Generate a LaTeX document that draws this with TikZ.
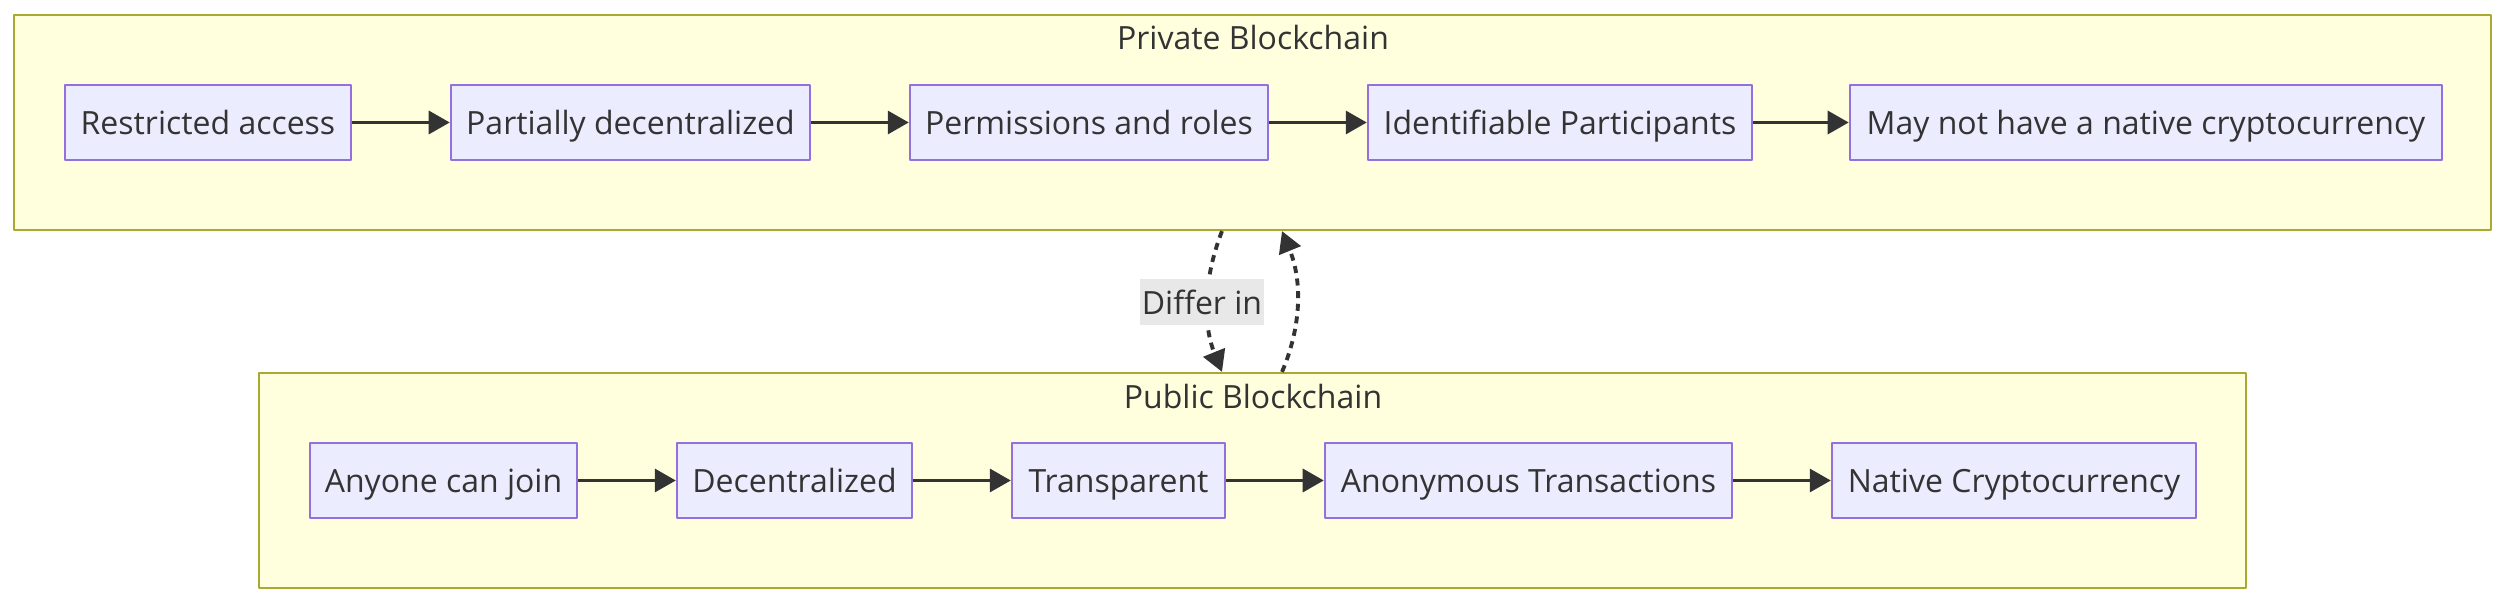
\documentclass[tikz,border=0pt]{standalone}
\usepackage{fontspec}
\setmainfont{Open Sans}
\usetikzlibrary{arrows.meta}
\definecolor{ink}{HTML}{333333}
\definecolor{clfill}{HTML}{FFFFDE}
\definecolor{clline}{HTML}{AAAA33}
\definecolor{boxfill}{HTML}{ECECFF}
\definecolor{boxline}{HTML}{9370DB}
\definecolor{lblfill}{HTML}{E8E8E8}
\tikzset{
  cluster/.style={draw=clline, fill=clfill, line width=0.6pt, minimum height=2.15cm},
  item/.style={draw=boxline, fill=boxfill, line width=0.6pt, text=ink, minimum height=0.75cm, inner sep=0pt, text height=0.84em, text depth=0.16em},
  flow/.style={draw=ink, line width=1.1pt, ->},
  link/.style={draw=ink, line width=1.1pt, dash pattern=on 2pt off 1.6pt, ->},
}
\begin{document}
\begin{tikzpicture}[x=0.01cm, y=-0.01cm, font=\fontsize{9.1}{11}\selectfont, line join=round, >={Triangle[length=6pt,width=6.5pt]}]
		\useasboundingbox (0,0) rectangle (2506,604);
		\node[cluster, minimum width=24.75cm] (priv) at (1252.5,122.5) {};
		\node[cluster, minimum width=19.85cm] (pub) at (1252.5,480.5) {};
		\node[text=ink] (privtitle) at (1253,38) {Private Blockchain};
		\node[text=ink] (pubtitle) at (1253,397) {Public Blockchain};
		\foreach \n/\x/\w/\t in {pa1/208/2.86/Restricted access, pa2/630.5/3.59/Partially decentralized, pa3/1089/3.58/Permissions and roles, pa4/1560/3.84/Identifiable Participants, pa5/2146/5.92/May not have a native cryptocurrency}
			\node[item, minimum width=\w cm] (\n) at (\x,122.5) {\t};
		\foreach \n/\x/\w/\t in {pb1/443.5/2.67/Anyone can join, pb2/794.5/2.35/Decentralized, pb3/1118.5/2.13/Transparent, pb4/1528.5/4.07/Anonymous Transactions, pb5/2014/3.64/Native Cryptocurrency}
			\node[item, minimum width=\w cm] (\n) at (\x,480.5) {\t};
		\foreach \a/\b in {pa1/pa2, pa2/pa3, pa3/pa4, pa4/pa5, pb1/pb2, pb2/pb3, pb3/pb4, pb4/pb5}
			\draw[flow] (\a) -- (\b);
		% links between the two chains
		\draw[link] ([xshift=-0.305cm]priv.south) .. controls (1203,280) and (1203,325) .. ([xshift=-0.305cm]pub.north);
		\draw[link] ([xshift=0.295cm]pub.north) .. controls (1302,325) and (1302,280) .. ([xshift=0.295cm]priv.south);
		\node[fill=lblfill, text=ink, inner xsep=0.5pt, inner ysep=3pt] (differ) at (1202,302) {Differ in};
\end{tikzpicture}
\end{document}
